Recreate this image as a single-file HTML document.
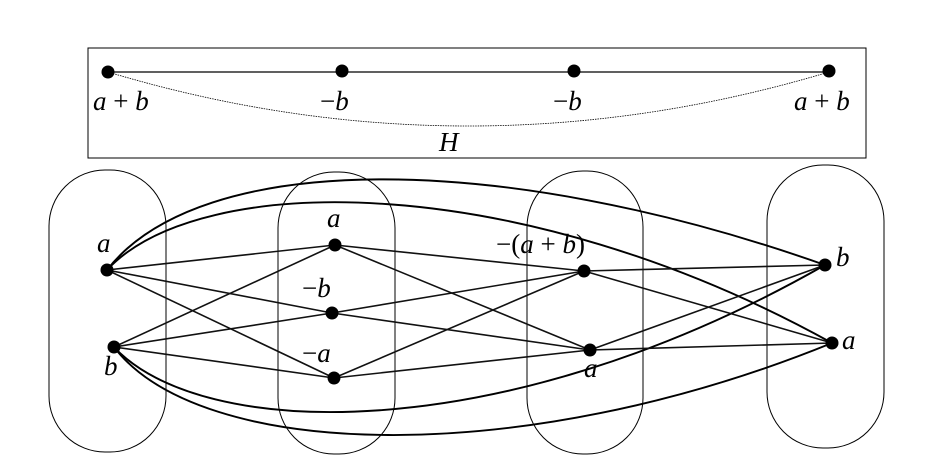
<!DOCTYPE html>
<html><head><meta charset="utf-8"><style>
html,body{margin:0;padding:0;background:#fff;}
svg{display:block;}
text{font-family:"Liberation Serif",serif;font-style:italic;font-size:27px;fill:#000;}
</style></head><body>
<svg width="943" height="471" viewBox="0 0 943 471" xmlns="http://www.w3.org/2000/svg">
<rect x="88" y="48" width="778" height="110" fill="none" stroke="#000" stroke-width="1"/>
<line x1="108" y1="72" x2="829" y2="72" stroke="#000" stroke-width="1.2"/>
<path d="M108,72 Q468,180 829,72" fill="none" stroke="#000" stroke-width="0.8" stroke-dasharray="1.5,1"/>
<circle cx="108" cy="72" r="6.5"/><circle cx="342" cy="71" r="6.5"/><circle cx="574" cy="71" r="6.5"/><circle cx="829" cy="71" r="6.5"/>
<text x="93" y="110">a <tspan font-style="normal">+</tspan> b</text>
<text x="320" y="110"><tspan font-style="normal">−</tspan>b</text>
<text x="553" y="110"><tspan font-style="normal">−</tspan>b</text>
<text x="794" y="110">a <tspan font-style="normal">+</tspan> b</text>
<text x="439" y="151">H</text>

<g fill="none" stroke="#000" stroke-width="1">
<rect x="49" y="170" width="117" height="282" rx="56"/>
<rect x="278" y="172" width="117" height="282" rx="56"/>
<rect x="527" y="171" width="116" height="283" rx="56"/>
<rect x="767" y="165" width="117" height="283" rx="56"/>
</g>

<g stroke="#000" stroke-width="1.9" fill="none">
<path d="M107,270 C200,150 500,150 825,265"/>
<path d="M107,270 C200,170 520,170 832,343"/>
<path d="M114,347 C200,440 500,450 825,265"/>
<path d="M114,347 C200,460 520,470 832,343"/>
</g>
<g stroke="#111" stroke-width="1.6">
<line x1="107" y1="270" x2="335" y2="245"/>
<line x1="107" y1="270" x2="332" y2="313"/>
<line x1="107" y1="270" x2="334" y2="378"/>
<line x1="114" y1="347" x2="335" y2="245"/>
<line x1="114" y1="347" x2="332" y2="313"/>
<line x1="114" y1="347" x2="334" y2="378"/>
<line x1="335" y1="245" x2="584" y2="271"/>
<line x1="335" y1="245" x2="590" y2="350"/>
<line x1="332" y1="313" x2="584" y2="271"/>
<line x1="332" y1="313" x2="590" y2="350"/>
<line x1="334" y1="378" x2="584" y2="271"/>
<line x1="334" y1="378" x2="590" y2="350"/>
<line x1="584" y1="271" x2="825" y2="265"/>
<line x1="584" y1="271" x2="832" y2="343"/>
<line x1="590" y1="350" x2="825" y2="265"/>
<line x1="590" y1="350" x2="832" y2="343"/>
</g>
<g fill="#000">
<circle cx="107" cy="270" r="6.5"/><circle cx="114" cy="347" r="6.5"/>
<circle cx="335" cy="245" r="6.5"/><circle cx="332" cy="313" r="6.5"/><circle cx="334" cy="378" r="6.5"/>
<circle cx="584" cy="271" r="6.5"/><circle cx="590" cy="350" r="6.5"/>
<circle cx="825" cy="265" r="6.5"/><circle cx="832" cy="343" r="6.5"/>
</g>
<text x="97" y="252">a</text>
<text x="104" y="375">b</text>
<text x="327" y="227">a</text>
<text x="302" y="297"><tspan font-style="normal">−</tspan>b</text>
<text x="302" y="362"><tspan font-style="normal">−</tspan>a</text>
<text x="496" y="253"><tspan font-style="normal">−(</tspan>a <tspan font-style="normal">+</tspan> b<tspan font-style="normal">)</tspan></text>
<text x="584" y="377">a</text>
<text x="836" y="266">b</text>
<text x="842" y="349">a</text>
</svg>
</body></html>
